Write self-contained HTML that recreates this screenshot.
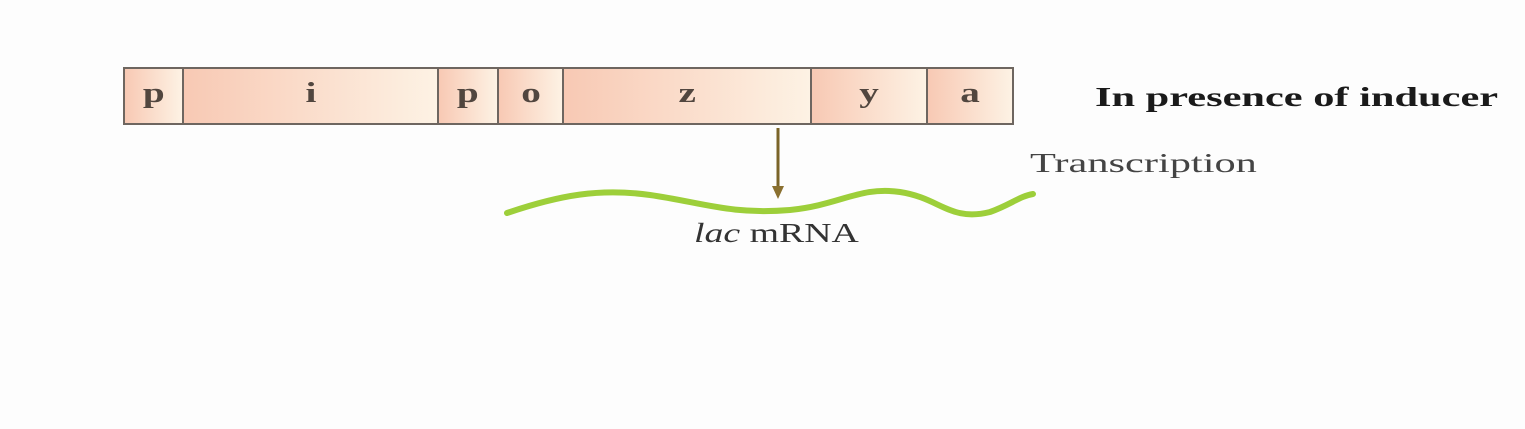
<!DOCTYPE html>
<html><head><style>
body{margin:0;width:1525px;height:429px;background:#fdfdfd;overflow:hidden;position:relative;font-family:"Liberation Serif",serif;}
.bar{position:absolute;left:123px;top:67px;height:54px;border:2px solid #6e6660;display:flex;}
.c{height:54px;border-right:2px solid #6e6660;background:linear-gradient(90deg,#f8c9b4,#fdf2e4);display:flex;align-items:center;justify-content:center;font-size:28px;color:#4a403a;box-sizing:border-box;padding-bottom:4px;}
.c span{display:inline-block;transform:scaleX(1.4);font-weight:bold;color:#51463f}
.c:last-child{border-right:none}
.t{position:absolute;transform-origin:0 0;white-space:nowrap}
</style></head><body>
<div class="bar">
<div class="c" style="width:59px"><span>p</span></div>
<div class="c" style="width:255px"><span>i</span></div>
<div class="c" style="width:60px"><span>p</span></div>
<div class="c" style="width:65px"><span>o</span></div>
<div class="c" style="width:248px"><span>z</span></div>
<div class="c" style="width:116px"><span>y</span></div>
<div class="c" style="width:84px"><span>a</span></div>
</div>
<div class="t" style="left:1095px;top:82px;font-size:27px;font-weight:bold;color:#1a1a1a;transform:scaleX(1.57)">In presence of inducer</div>
<div class="t" style="left:1030px;top:148px;font-size:27px;color:#444;transform:scaleX(1.57)">Transcription</div>
<div class="t" style="left:694px;top:218px;font-size:27px;color:#333;transform:scaleX(1.4)"><i>lac</i> mRNA</div>
<svg width="1525" height="429" style="position:absolute;left:0;top:0">
<path d="M507,213 C560,195 600,188 650,195 C700,202 730,215 790,210 C840,205 860,186 900,192 C940,198 950,222 990,212 C1010,205 1020,196 1033,194" fill="none" stroke="#9dcf3a" stroke-width="6" stroke-linecap="round"/>
<line x1="778" y1="128" x2="778" y2="190" stroke="#7a6428" stroke-width="3"/>
<polygon points="772,186 784,186 778,199" fill="#8a7030"/>
</svg>
</body></html>
